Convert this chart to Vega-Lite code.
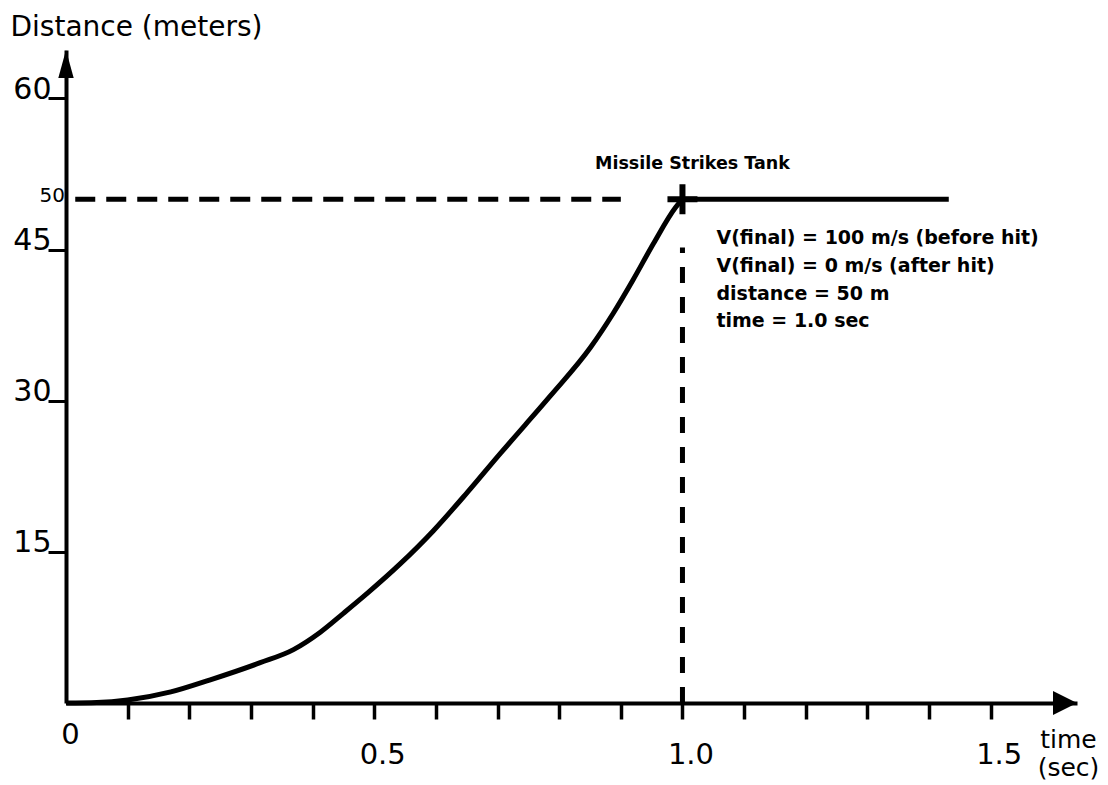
{
  "$schema": "https://vega.github.io/schema/vega-lite/v6.json",
  "width": 1011,
  "height": 653,
  "autosize": {"type": "none"},
  "padding": {"left": 66, "top": 50, "right": 31, "bottom": 82},
  "background": "white",
  "config": {
    "view": {"stroke": null},
    "font": "DejaVu Sans",
    "text": {"font": "DejaVu Sans", "color": "black"}
  },
  "datasets": {
    "curve": [
      {"time": 0, "distance": 0},
      {"time": 0.05, "distance": 0.05},
      {"time": 0.1, "distance": 0.3},
      {"time": 0.17, "distance": 1.1},
      {"time": 0.234, "distance": 2.3},
      {"time": 0.315, "distance": 4.0},
      {"time": 0.369, "distance": 5.3},
      {"time": 0.412, "distance": 7.0},
      {"time": 0.45, "distance": 8.9},
      {"time": 0.489, "distance": 10.9},
      {"time": 0.542, "distance": 13.8},
      {"time": 0.596, "distance": 17.1},
      {"time": 0.651, "distance": 20.9},
      {"time": 0.705, "distance": 24.8},
      {"time": 0.745, "distance": 27.6},
      {"time": 0.786, "distance": 30.5},
      {"time": 0.851, "distance": 35.3},
      {"time": 0.888, "distance": 38.7},
      {"time": 0.92, "distance": 42.0},
      {"time": 0.953, "distance": 45.6},
      {"time": 0.989, "distance": 49.2},
      {"time": 1.0, "distance": 50}
    ],
    "flat": [
      {"time": 1.0, "distance": 50},
      {"time": 1.432, "distance": 50}
    ],
    "hdash": [{"time": 0.015, "time2": 0.9, "distance": 50}],
    "vdash": [{"time": 1.0, "distance": 0, "distance2": 45.2}],
    "strike": [{"time": 1.0, "distance": 50}],
    "yarrow": [{"time": 0, "distance": 64.8}],
    "xarrow": [{"time": 1.64, "distance": 0}],
    "title": [{"time": 1.0, "distance": 50, "label": "Missile Strikes Tank"}],
    "notes": [{"time": 1.0, "distance": 50, "label": ["V(final) = 100 m/s (before hit)", "V(final) = 0 m/s (after hit)", "distance = 50 m", "time = 1.0 sec"]}],
    "fifty": [{"time": 0, "distance": 50, "label": "50"}]
  },
  "layer": [
    {
      "data": {"name": "curve"},
      "mark": {"type": "line", "color": "black", "strokeWidth": 5, "interpolate": "monotone", "clip": false},
      "encoding": {
        "x": {
          "field": "time", "type": "quantitative",
          "scale": {"domain": [0, 1.64], "nice": false, "zero": false},
          "axis": {
            "values": [0, 0.1, 0.2, 0.3, 0.4, 0.5, 0.6, 0.7, 0.8, 0.9, 1.0, 1.1, 1.2, 1.3, 1.4, 1.5],
            "labelExpr": "abs(datum.value) < 0.001 ? '0' : abs(datum.value - 0.5) < 0.001 ? '0.5' : abs(datum.value - 1) < 0.001 ? '1.0' : abs(datum.value - 1.5) < 0.001 ? '1.5' : ''",
            "grid": false,
            "domainColor": "black", "domainWidth": 4,
            "tickColor": "black", "tickWidth": 3.5, "tickSize": 16,
            "tickOpacity": {"condition": {"test": "abs(datum.value) < 0.001", "value": 0}, "value": 1},
            "labelFont": "DejaVu Sans", "labelFontSize": 29, "labelColor": "black",
            "labelBaseline": "alphabetic", "labelAlign": "center",
            "labelPadding": {"condition": {"test": "abs(datum.value) < 0.001", "value": 24}, "value": 44},
            "labelOffset": {"condition": {"test": "abs(datum.value) < 0.001", "value": 4}, "value": 8},
            "labelFlush": false, "labelOverlap": false, "labelBound": false,
            "title": ["time", "(sec)"],
            "titleFont": "DejaVu Sans", "titleFontSize": 25, "titleFontWeight": "normal", "titleColor": "black",
            "titleX": 1002, "titleY": 44, "titleAlign": "center", "titleBaseline": "alphabetic", "titleLineHeight": 28,
            "zindex": 1
          }
        },
        "y": {
          "field": "distance", "type": "quantitative",
          "scale": {"domain": [0, 64.8], "nice": false, "zero": false},
          "axis": {
            "values": [15, 30, 45, 60],
            "grid": false,
            "domainColor": "black", "domainWidth": 4,
            "tickColor": "black", "tickWidth": 3, "tickSize": 18,
            "labelFont": "DejaVu Sans", "labelFontSize": 30, "labelColor": "black",
            "labelBaseline": "alphabetic", "labelAlign": "right", "labelPadding": -3,
            "labelFlush": false, "labelOverlap": false, "labelBound": false,
            "title": "Distance (meters)",
            "titleFont": "DejaVu Sans", "titleFontSize": 28, "titleFontWeight": "normal", "titleColor": "black",
            "titleAngle": 0, "titleX": -56, "titleY": -15, "titleAlign": "left", "titleBaseline": "alphabetic",
            "zindex": 1
          }
        }
      }
    },
    {
      "data": {"name": "flat"},
      "mark": {"type": "line", "color": "black", "strokeWidth": 5},
      "encoding": {
        "x": {"field": "time", "type": "quantitative"},
        "y": {"field": "distance", "type": "quantitative"}
      }
    },
    {
      "data": {"name": "hdash"},
      "mark": {"type": "rule", "color": "black", "strokeWidth": 5, "strokeDash": [20, 11]},
      "encoding": {
        "x": {"field": "time", "type": "quantitative"},
        "x2": {"field": "time2"},
        "y": {"field": "distance", "type": "quantitative"}
      }
    },
    {
      "data": {"name": "vdash"},
      "mark": {"type": "rule", "color": "black", "strokeWidth": 5, "strokeDash": [16, 14]},
      "encoding": {
        "x": {"field": "time", "type": "quantitative"},
        "y": {"field": "distance", "type": "quantitative"},
        "y2": {"field": "distance2"}
      }
    },
    {
      "data": {"name": "strike"},
      "mark": {"type": "point", "shape": "M-1,0L1,0M0,-1L0,1", "size": 900, "filled": false, "stroke": "black", "strokeWidth": 6, "opacity": 1},
      "encoding": {
        "x": {"field": "time", "type": "quantitative"},
        "y": {"field": "distance", "type": "quantitative"}
      }
    },
    {
      "data": {"name": "yarrow"},
      "mark": {"type": "point", "shape": "M0,0L0.55,2L-0.55,2Z", "size": 784, "filled": true, "color": "black", "opacity": 1, "clip": false},
      "encoding": {
        "x": {"field": "time", "type": "quantitative"},
        "y": {"field": "distance", "type": "quantitative"}
      }
    },
    {
      "data": {"name": "xarrow"},
      "mark": {"type": "point", "shape": "M0,0L-2,-1L-2,1Z", "size": 576, "filled": true, "color": "black", "opacity": 1, "clip": false},
      "encoding": {
        "x": {"field": "time", "type": "quantitative"},
        "y": {"field": "distance", "type": "quantitative"}
      }
    },
    {
      "data": {"name": "title"},
      "mark": {"type": "text", "font": "DejaVu Sans", "fontWeight": "bold", "fontSize": 17.5, "align": "center", "baseline": "alphabetic", "dx": 10, "dy": -30, "color": "black"},
      "encoding": {
        "x": {"field": "time", "type": "quantitative"},
        "y": {"field": "distance", "type": "quantitative"},
        "text": {"field": "label"}
      }
    },
    {
      "data": {"name": "notes"},
      "mark": {"type": "text", "font": "DejaVu Sans", "fontWeight": "bold", "fontSize": 19, "align": "left", "baseline": "alphabetic", "dx": 34, "dy": 45, "lineHeight": 27.7, "color": "black"},
      "encoding": {
        "x": {"field": "time", "type": "quantitative"},
        "y": {"field": "distance", "type": "quantitative"},
        "text": {"field": "label"}
      }
    },
    {
      "data": {"name": "fifty"},
      "mark": {"type": "text", "font": "DejaVu Sans", "fontSize": 20, "align": "right", "baseline": "alphabetic", "dx": -1, "dy": 3, "color": "black"},
      "encoding": {
        "x": {"field": "time", "type": "quantitative"},
        "y": {"field": "distance", "type": "quantitative"},
        "text": {"field": "label"}
      }
    }
  ]
}
